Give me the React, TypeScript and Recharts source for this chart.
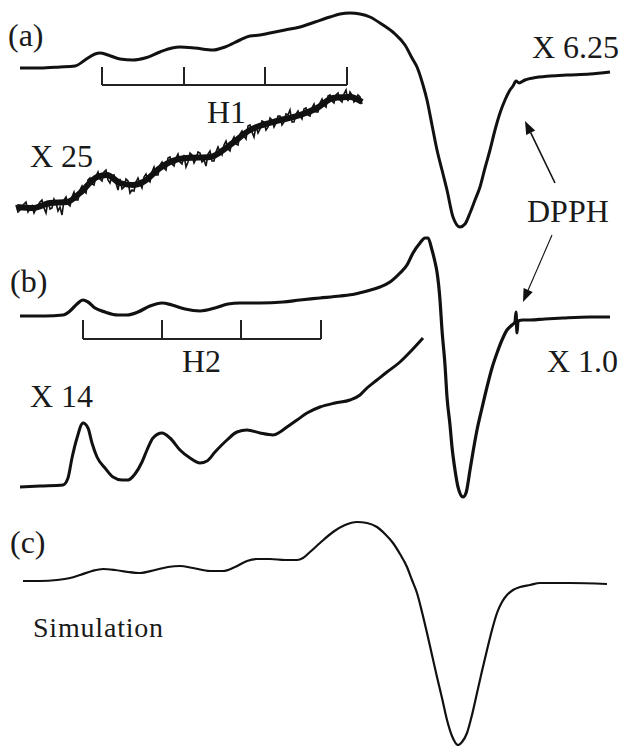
import { ComposedChart, Line, XAxis, YAxis, ReferenceLine } from "recharts";

// Field runs left -> right in arbitrary units, signal is plotted top-down
// so every trace sits at its own vertical offset on one shared canvas.
const W = 624;
const H = 746;

// (a) experimental spectrum, gain X 6.25
const specA = [
  [20, 68], [40, 68], [60, 67], [75, 66], [85, 60], [95, 54], [100, 53], [108, 55],
  [120, 59], [133, 60], [145, 58], [160, 52], [172, 48], [180, 47], [195, 48], [213, 50],
  [225, 47], [240, 40], [250, 36], [260, 35], [270, 33], [285, 30], [300, 27], [315, 22],
  [330, 17], [340, 14], [350, 13], [360, 14], [370, 17], [383, 25], [395, 34], [405, 45],
  [412, 58], [417, 67], [423, 85], [427, 100], [432, 125], [437, 150], [442, 170],
  [447, 190], [453, 217], [460, 227], [465, 224], [470, 213], [475, 200], [480, 187],
  [485, 168], [490, 150], [495, 130], [500, 113], [505, 100], [510, 90], [513, 86],
  [516, 81], [519, 83], [525, 80], [533, 78], [550, 76], [567, 75], [590, 74], [610, 72],
];

// (a) low-field wing at X 25: smoothed trend plus the raw noisy record
const specA25Trend = [
  [17, 207], [33, 208], [50, 203], [67, 202], [80, 193], [97, 177], [107, 175], [120, 183],
  [133, 185], [143, 182], [160, 168], [170, 162], [187, 158], [210, 157], [230, 145],
  [250, 130], [273, 122], [300, 115], [317, 108], [333, 98], [350, 97], [362, 102],
];
const specA25 = [
  [16, 205], [18, 212], [20, 210], [24, 204], [26, 202], [28, 212], [32, 206], [34, 213],
  [36, 209], [40, 202], [42, 200], [44, 208], [46, 213], [48, 201], [50, 209], [52, 208],
  [54, 199], [56, 203], [58, 211], [60, 207], [62, 215], [64, 200], [66, 197], [68, 204],
  [70, 206], [72, 197], [74, 192], [76, 200], [78, 200], [80, 190], [82, 186], [84, 191],
  [86, 193], [88, 180], [90, 178], [92, 184], [94, 185], [96, 176], [98, 172], [100, 179],
  [102, 181], [104, 172], [106, 170], [108, 180], [110, 183], [112, 176], [114, 175],
  [116, 183], [118, 190], [120, 179], [122, 189], [124, 187], [126, 179], [128, 181],
  [130, 193], [132, 190], [134, 191], [136, 182], [138, 178], [140, 184], [142, 188],
  [144, 177], [146, 174], [148, 180], [150, 182], [152, 172], [154, 167], [156, 175],
  [158, 175], [160, 165], [162, 162], [164, 168], [166, 170], [168, 158], [170, 157],
  [172, 164], [174, 166], [176, 158], [178, 154], [180, 162], [182, 164], [184, 155],
  [186, 167], [188, 162], [190, 153], [192, 155], [194, 163], [196, 159], [198, 152],
  [200, 153], [202, 162], [204, 160], [206, 166], [208, 154], [210, 151], [212, 161],
  [214, 161], [216, 152], [218, 147], [220, 152], [222, 155], [224, 145], [226, 141],
  [228, 149], [230, 151], [232, 141], [234, 137], [236, 144], [238, 145], [240, 134],
  [242, 131], [244, 136], [246, 139], [248, 126], [250, 125], [252, 132], [254, 137],
  [256, 126], [258, 133], [260, 129], [262, 121], [264, 122], [266, 130], [268, 127],
  [270, 118], [272, 120], [274, 127], [276, 123], [278, 116], [280, 116], [282, 125],
  [284, 122], [286, 114], [288, 115], [290, 110], [292, 122], [294, 122], [296, 114],
  [298, 111], [300, 116], [302, 119], [304, 109], [306, 108], [308, 115], [310, 116],
  [312, 108], [314, 104], [316, 112], [318, 112], [320, 103], [322, 99], [324, 105],
  [326, 107], [328, 96], [330, 95], [332, 101], [334, 103], [336, 95], [338, 93],
  [340, 100], [342, 102], [344, 94], [346, 90], [348, 101], [350, 92], [352, 95],
  [354, 102], [356, 100], [358, 95], [360, 97], [362, 104],
];

// (b) experimental spectrum, gain X 1.0 (DPPH marker near 517)
const specB = [
  [20, 316], [45, 316], [63, 315], [70, 311], [77, 304], [83, 300], [88, 302], [95, 308],
  [105, 312], [118, 315], [127, 315], [138, 312], [150, 306], [162, 303], [172, 305],
  [185, 309], [200, 311], [215, 308], [228, 304], [240, 303], [260, 303], [283, 302],
  [300, 300], [320, 298], [340, 296], [355, 294], [367, 291], [380, 287], [390, 282],
  [400, 273], [407, 265], [413, 253], [420, 243], [425, 238], [428, 238], [432, 250],
  [435, 262], [437, 272], [440, 300], [442, 330], [445, 365], [447, 397], [450, 425],
  [452, 447], [455, 470], [458, 487], [463, 497], [466, 493], [470, 470], [473, 452],
  [477, 430], [482, 408], [487, 387], [492, 368], [497, 353], [502, 340], [507, 330],
  [512, 325], [515, 322], [516, 312], [517, 333], [518, 321], [523, 320], [530, 320],
  [545, 319], [563, 318], [590, 317], [610, 317],
];

// (b) low-field wing at X 14
const specB14 = [
  [20, 487], [40, 486], [63, 485], [68, 478], [72, 458], [77, 438], [83, 423], [88, 428],
  [92, 443], [97, 457], [105, 468], [113, 477], [122, 480], [128, 480], [135, 474],
  [142, 462], [147, 450], [153, 438], [162, 433], [170, 438], [180, 450], [190, 458],
  [200, 463], [207, 461], [215, 452], [227, 440], [237, 432], [247, 430], [260, 433],
  [273, 435], [280, 432], [287, 427], [297, 420], [307, 413], [320, 407], [335, 403],
  [350, 400], [360, 395], [367, 388], [377, 380], [387, 372], [400, 362], [412, 350],
  [423, 338],
];

// (c) simulated spectrum
const specC = [
  [23, 581], [40, 581], [57, 580], [70, 578], [80, 575], [92, 571], [103, 569], [115, 570],
  [128, 572], [140, 573], [155, 570], [168, 567], [180, 566], [193, 568], [210, 571],
  [223, 571], [235, 567], [247, 561], [257, 559], [270, 559], [285, 560], [297, 560],
  [303, 558], [310, 552], [320, 543], [333, 532], [345, 525], [357, 522], [367, 523],
  [377, 527], [385, 534], [393, 543], [400, 554], [407, 567], [412, 580], [417, 593],
  [422, 612], [427, 633], [432, 655], [437, 677], [442, 698], [447, 720], [452, 736],
  [458, 745], [462, 742], [467, 733], [472, 715], [477, 693], [482, 671], [487, 650],
  [492, 630], [497, 613], [502, 602], [507, 595], [513, 590], [520, 587], [530, 585],
  [540, 583], [570, 583], [607, 584],
];

// hyperfine stick patterns: line positions, tick top, bar level
const h1Lines = [102, 184, 265, 347];
const h1Span = [67, 85];
const h2Lines = [83, 162, 241, 321];
const h2Span = [320, 339];

// DPPH pointers: tail -> tip
const dpphArrows = [
  { from: [555, 183], to: [525, 121], width: 1.6 },
  { from: [552, 235], to: [523, 302], width: 1.1 },
];

// one shared table keyed on field, one column per trace
const traces: Record<string, number[][]> = {
  a: specA,
  a25t: specA25Trend,
  a25: specA25,
  b: specB,
  b14: specB14,
  c: specC,
};
const rows = new Map<number, Record<string, number>>();
Object.entries(traces).forEach(([key, pts]) => {
  pts.forEach(([x, y]) => {
    const row = rows.get(x) ?? { x };
    row[key] = y;
    rows.set(x, row);
  });
});
const table = [...rows.values()].sort((p, q) => p.x - q.x);

const ink = "#111";
const serif = "Liberation Serif, Times New Roman, serif";

const Arrow = (props: any) => {
  const { x1, y1, x2, y2, strokeWidth } = props;
  const ang = Math.atan2(y2 - y1, x2 - x1);
  const len = 13;
  const half = 5;
  const bx = x2 - len * Math.cos(ang);
  const by = y2 - len * Math.sin(ang);
  const px = -Math.sin(ang) * half;
  const py = Math.cos(ang) * half;
  return (
    <g>
      <line x1={x1} y1={y1} x2={bx} y2={by} stroke={ink} strokeWidth={strokeWidth} />
      <polygon points={`${x2},${y2} ${bx + px},${by + py} ${bx - px},${by - py}`} fill={ink} />
    </g>
  );
};

function sticks(lines: number[], span: number[], key: string) {
  const [top, bar] = span;
  const items = lines.map((x, i) => (
    <ReferenceLine
      key={`${key}-t${i}`}
      segment={[{ x, y: top }, { x, y: bar }]}
      stroke="#222"
      strokeWidth={2}
    />
  ));
  items.push(
    <ReferenceLine
      key={`${key}-bar`}
      segment={[{ x: lines[0], y: bar }, { x: lines[lines.length - 1], y: bar }]}
      stroke="#222"
      strokeWidth={2}
    />
  );
  return items;
}

const labels = [
  { text: "(a)", x: 8, y: 46, size: 32 },
  { text: "X 6.25", x: 532, y: 58, size: 32 },
  { text: "H1", x: 207, y: 123, size: 32 },
  { text: "X 25", x: 30, y: 167, size: 32 },
  { text: "DPPH", x: 527, y: 222, size: 32 },
  { text: "(b)", x: 10, y: 292, size: 32 },
  { text: "H2", x: 182, y: 372, size: 32 },
  { text: "X 1.0", x: 547, y: 372, size: 32 },
  { text: "X 14", x: 30, y: 407, size: 32 },
  { text: "(c)", x: 10, y: 553, size: 32 },
  { text: "Simulation", x: 33, y: 637, size: 28, spacing: 0.8 },
];

const trace = (key: string, width: number, type: "monotone" | "linear" = "monotone") => (
  <Line
    key={key}
    dataKey={key}
    type={type}
    stroke={ink}
    strokeWidth={width}
    dot={false}
    activeDot={false}
    connectNulls
    isAnimationActive={false}
  />
);

export default function App() {
  return (
    <div style={{ position: "absolute", left: 0, top: 0, width: W, height: H, background: "#fff" }}>
      <ComposedChart width={W} height={H} data={table} margin={{ top: 0, right: 0, bottom: 0, left: 0 }}>
        <XAxis dataKey="x" type="number" domain={[0, W]} hide allowDataOverflow />
        <YAxis type="number" domain={[0, H]} reversed hide allowDataOverflow />

        {sticks(h1Lines, h1Span, "h1")}
        {sticks(h2Lines, h2Span, "h2")}

        {trace("a25t", 6)}
        {trace("a25", 1.6, "linear")}
        {trace("a", 3)}
        {trace("b", 3.2)}
        {trace("b14", 3)}
        {trace("c", 2.2)}

        {dpphArrows.map((a, i) => (
          <ReferenceLine
            key={`dpph-${i}`}
            segment={[{ x: a.from[0], y: a.from[1] }, { x: a.to[0], y: a.to[1] }]}
            strokeWidth={a.width}
            shape={(p: any) => <Arrow {...p} strokeWidth={a.width} />}
          />
        ))}

        {labels.map((l) => (
          <text
            key={l.text}
            x={l.x}
            y={l.y}
            fill="#1a1a1a"
            style={{ fontFamily: serif, fontSize: l.size, letterSpacing: l.spacing ?? 0 }}
          >
            {l.text}
          </text>
        ))}
      </ComposedChart>
    </div>
  );
}
